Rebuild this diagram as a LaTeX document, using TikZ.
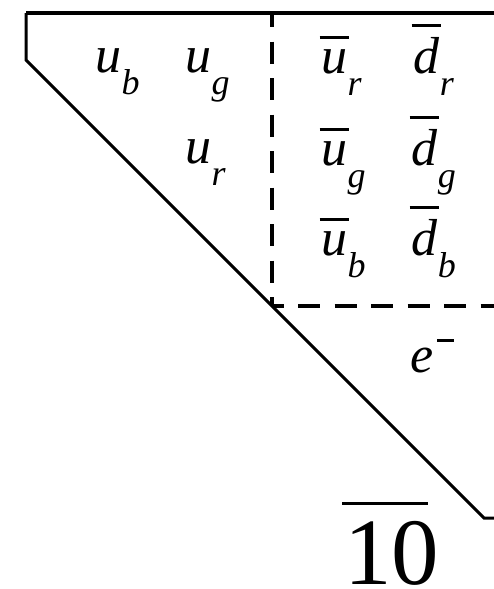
\documentclass[tikz,border=0pt]{standalone}
\usepackage{fontspec}
\setmainfont{Liberation Serif}
\newcommand{\qlet}[1]{\textit{#1}}
\newcommand{\qsub}[1]{\kern0.5pt\raisebox{-22pt}{\fontsize{36}{38}\selectfont\qlet{#1}}}
\newcommand{\barred}[2][10pt]{\sbox0{#2}\rlap{\kern-1.5pt\rule[\dimexpr\ht0+#1\relax]{\dimexpr\wd0+3pt\relax}{3pt}}\usebox0}

\begin{document}
\begin{tikzpicture}[x=1pt,y=-1pt,line cap=butt,line join=miter,
  every node/.style={inner sep=0pt,anchor=base west,font=\fontsize{52}{54}\selectfont},
  cutline/.style={line width=3.4pt,dash pattern=on 22pt off 14.5pt}]
  \useasboundingbox (0,0) rectangle (494,589);
  % frame of the diagram
  \coordinate (tl) at (26,13);
  \coordinate (tr) at (494,13);
  \coordinate (kn) at (26,60);
  \coordinate (cut) at (272,306);
  \coordinate (dend) at (484,518);
  \coordinate (dr) at (494,518);
  \draw[line width=3.4pt] (tr) -- (tl);
  \draw[line width=3pt] (tl) -- (kn) -- (dend) -- (dr);
  \draw[cutline,dash phase=8pt] (272,13) -- (cut);
  \draw[cutline,dash phase=10.5pt] (cut) -- (494,306);
  % quarks
  \node (ub) at (95,72) {\qlet{u}\qsub{b}};
  \node (ug) at (185,72) {\qlet{u}\qsub{g}};
  \node (ur) at (185,163) {\qlet{u}\qsub{r}};
  % antiquarks
  \node (aur) at (321,73) {\barred{\qlet{u}}\qsub{r}};
  \node (adr) at (413,73) {\barred{\qlet{d}}\qsub{r}};
  \node (aug) at (321,165) {\barred{\qlet{u}}\qsub{g}};
  \node (adg) at (411,165) {\barred{\qlet{d}}\qsub{g}};
  \node (aub) at (321,255) {\barred{\qlet{u}}\qsub{b}};
  \node (adb) at (411,255) {\barred{\qlet{d}}\qsub{b}};
  % lepton
  \node (el) at (410,372) {\qlet{e}\kern4pt\rule[30.5pt]{17pt}{2.8pt}};
  % label
  \node[font=\fontsize{95}{97}\selectfont] (rep) at (344,584)
    {\rlap{\kern-2pt\rule[79pt]{86pt}{3pt}}10};
\end{tikzpicture}
\end{document}
